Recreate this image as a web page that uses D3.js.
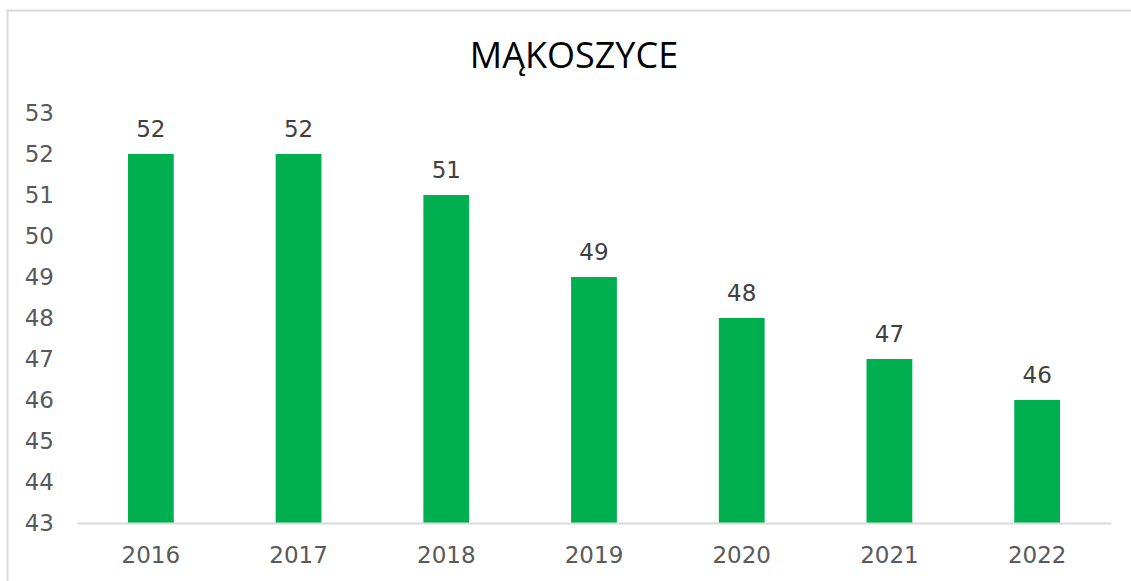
<!DOCTYPE html>
<html>
<head>
<meta charset="utf-8">
<script src="https://cdn.jsdelivr.net/npm/d3@7"></script>
<style>
  body { margin: 0; background: #fff; }
</style>
</head>
<body>
<script>
const years = ["2016", "2017", "2018", "2019", "2020", "2021", "2022"];
const values = [52, 52, 51, 49, 48, 47, 46];
const yTicks = [43, 44, 45, 46, 47, 48, 49, 50, 51, 52, 53];
const title = "MĄKOSZYCE";

const width = 1131, height = 581;
const margin = { top: 113, right: 20, bottom: 58, left: 77 };

const svg = d3.select("body").append("svg")
    .attr("width", width)
    .attr("height", height);

// chart frame
svg.append("rect")
    .attr("x", 7.5).attr("y", 10.5)
    .attr("width", 1140).attr("height", 600)
    .attr("fill", "#fff")
    .attr("stroke", "#d9d9d9")
    .attr("stroke-width", 2);

const x = d3.scaleBand()
    .domain(years)
    .range([margin.left, 1111])
    .paddingInner(0.69)
    .paddingOuter(0.345);

const y = d3.scaleLinear()
    .domain([43, 53])
    .range([523, margin.top]);

svg.append("text")
    .attr("x", 574).attr("y", 68)
    .attr("text-anchor", "middle")
    .attr("font-family", "'Open Sans', sans-serif")
    .attr("font-size", 36)
    .attr("fill", "#000")
    .text(title);

// y labels
const yAxis = svg.append("g")
    .attr("transform", `translate(${54},0)`)
    .call(d3.axisLeft(y).tickValues(yTicks).tickSize(0).tickPadding(0).tickFormat(d3.format("d")));
yAxis.select(".domain").remove();
yAxis.selectAll("text")
    .attr("font-family", "'DejaVu Sans', sans-serif")
    .attr("font-size", 23)
    .attr("fill", "#595959");

// bars
svg.append("g").selectAll("rect")
    .data(values)
    .join("rect")
    .attr("x", (d, i) => x(years[i]))
    .attr("y", d => y(d))
    .attr("width", x.bandwidth())
    .attr("height", d => y(43) - y(d))
    .attr("fill", "#00b050");

// x axis
const xAxis = svg.append("g")
    .attr("transform", `translate(0,${523})`)
    .call(d3.axisBottom(x).tickSize(0).tickPadding(24).tickSizeOuter(0));
xAxis.select(".domain").attr("stroke", "#d9d9d9").attr("stroke-width", 2);
xAxis.selectAll("text")
    .attr("font-family", "'DejaVu Sans', sans-serif")
    .attr("font-size", 23)
    .attr("fill", "#595959");

// data labels
svg.append("g").selectAll("text")
    .data(values)
    .join("text")
    .attr("x", (d, i) => x(years[i]) + x.bandwidth() / 2)
    .attr("y", d => y(d) - 17)
    .attr("text-anchor", "middle")
    .attr("font-family", "'DejaVu Sans', sans-serif")
    .attr("font-size", 23)
    .attr("fill", "#404040")
    .text(d => d);
</script>
</body>
</html>
